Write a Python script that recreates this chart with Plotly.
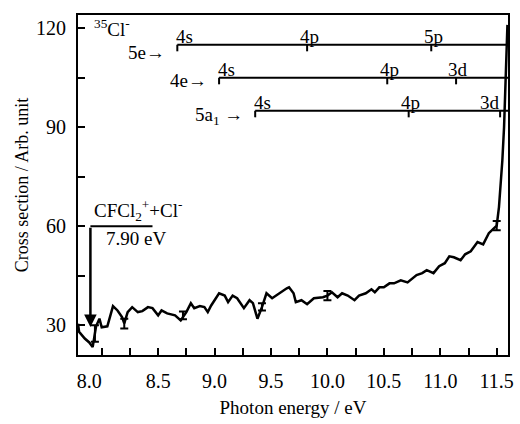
import plotly.graph_objects as go

# ---- data ----
energy = [7.79, 7.80, 7.85, 7.89, 7.92, 7.94, 7.95, 7.98, 8.00, 8.05, 8.10, 8.14, 8.18, 8.20,
          8.23, 8.27, 8.32, 8.36, 8.41, 8.45, 8.50, 8.53, 8.58, 8.65, 8.70, 8.75, 8.79, 8.82,
          8.87, 8.91, 8.94, 8.97, 9.04, 9.09, 9.12, 9.16, 9.20, 9.26, 9.31, 9.34, 9.38, 9.42,
          9.46, 9.51, 9.57, 9.64, 9.66, 9.70, 9.72, 9.77, 9.82, 9.88, 9.96, 10.00, 10.04, 10.09,
          10.13, 10.18, 10.24, 10.28, 10.34, 10.39, 10.42, 10.46, 10.50, 10.55, 10.59, 10.65,
          10.71, 10.79, 10.84, 10.88, 10.94, 10.99, 11.04, 11.08, 11.12, 11.18, 11.22, 11.27,
          11.33, 11.38, 11.43, 11.48, 11.50, 11.52, 11.535, 11.55, 11.565, 11.575, 11.585, 11.595]
cross_section = [30.5, 28, 26, 24.8, 23.4, 27, 29.7, 32, 29.4, 29.7, 35.8, 34.5, 32.5, 30.6,
                 34, 35.5, 34, 34.3, 35.5, 35.2, 33, 34.5, 33.6, 33, 31.5, 34, 36.7, 35.2,
                 35.8, 35.5, 34, 36, 39.7, 39, 37, 39, 38.2, 35.2, 37.6, 36.7, 32, 35.5,
                 39.7, 38.2, 39.7, 41.2, 41.5, 39.7, 37, 37.6, 36.4, 38.2, 38.5, 39, 40, 38.5,
                 39.7, 39, 37.6, 39, 39.7, 40.9, 40, 41.5, 41.5, 42.7, 42.7, 43.6,
                 43, 45.2, 45.8, 46.7, 45.8, 47.9, 48.8, 50.9, 50.6, 49.7, 51.5, 52.4,
                 55.2, 54.5, 57.9, 59.7, 60.2, 65.8, 72, 80, 90, 100, 110, 121]

err_x = [7.94, 8.20, 8.72, 9.42, 10.00, 11.50]
err_y = [27.5, 30.5, 33.0, 35.6, 39.0, 60.2]
err_size = [2.5, 1.5, 1.2, 1.1, 1.4, 1.4]

# Rydberg series
series_names = ["5e", "4e", "5a<sub>1</sub>"]
series_level = [115, 105, 95]
series_5e_x = [8.67, 9.82, 10.92]
series_5e_lbl = ["4s", "4p", "5p"]
series_4e_x = [9.04, 10.53, 11.14]
series_4e_lbl = ["4s", "4p", "3d"]
series_5a1_x = [9.36, 10.72, 11.53]
series_5a1_lbl = ["4s", "4p", "3d"]

threshold_energy = 7.90
threshold_label = "7.90 eV"
threshold_channel = "CFCl<sub>2</sub><sup>+</sup>+Cl<sup>-</sup>"

x_ticks = [8.0, 8.5, 9.0, 9.5, 10.0, 10.5, 11.0, 11.5]
x_tick_text = ["8.0\u00a0\u00a0\u00a0\u00a0\u00a0", "8.5", "9.0", "9.5", "10.0", "10.5", "11.0", "11.5"]
y_ticks = [30, 60, 90, 120]

FONT = "Liberation Serif"
TXT = 19

fig = go.Figure()
fig.add_trace(go.Scatter(x=energy, y=cross_section, mode="lines",
                         line=dict(color="black", width=2.5), showlegend=False))
fig.add_trace(go.Scatter(x=err_x, y=err_y, mode="markers",
                         marker=dict(size=1, color="black"),
                         error_y=dict(type="data", array=err_size, color="black",
                                      thickness=2, width=4),
                         showlegend=False))

annotations = []
shapes = []
all_x = [series_5e_x, series_4e_x, series_5a1_x]
all_lbl = [series_5e_lbl, series_4e_lbl, series_5a1_lbl]
x_right = 11.60
name_shift = [-8, -3, -5]
for i, (name, lvl) in enumerate(zip(series_names, series_level)):
    xs = all_x[i]
    lbls = all_lbl[i]
    shapes.append(dict(type="line", xref="x", yref="y", x0=xs[0], x1=x_right, y0=lvl, y1=lvl,
                       line=dict(color="black", width=2)))
    for j, (xv, lb) in enumerate(zip(xs, lbls)):
        shapes.append(dict(type="line", xref="x", yref="y", x0=xv, x1=xv, y0=lvl, y1=lvl - 2,
                           line=dict(color="black", width=2)))
        if j == 0:
            anchor = "left"
            xs_shift = -3
        elif j == len(xs) - 1 and i == 2:
            anchor = "right"
            xs_shift = 2
        else:
            anchor = "center"
            xs_shift = 2
        annotations.append(dict(x=xv, y=lvl, xref="x", yref="y", text=lb, showarrow=False,
                                xanchor=anchor, yanchor="bottom", xshift=xs_shift, yshift=-4,
                                font=dict(family=FONT, size=TXT, color="black")))
    sep = " " if i == 2 else ""
    annotations.append(dict(x=xs[0], y=lvl, xref="x", yref="y", text=name + sep + "→",
                            showarrow=False, xanchor="right", yanchor="middle",
                            xshift=-10, yshift=name_shift[i],
                            font=dict(family=FONT, size=TXT, color="black")))

annotations.append(dict(x=7.915, y=120, xref="x", yref="y", text="<sup>35</sup>Cl<sup>-</sup>",
                        showarrow=False, xanchor="left", yanchor="middle",
                        font=dict(family=FONT, size=TXT, color="black")))

# threshold marker
shapes.append(dict(type="line", xref="x", yref="y", x0=threshold_energy, x1=8.45, y0=60, y1=60,
                   line=dict(color="black", width=2)))
annotations.append(dict(x=threshold_energy, y=29.5, ax=threshold_energy, ay=60,
                        xref="x", yref="y", axref="x", ayref="y", text="",
                        showarrow=True, arrowhead=2, arrowsize=1, arrowwidth=2.5,
                        arrowcolor="black", standoff=0))
annotations.append(dict(x=threshold_energy, y=60, xref="x", yref="y", text=threshold_channel,
                        showarrow=False, xanchor="left", yanchor="bottom", xshift=2, yshift=0,
                        font=dict(family=FONT, size=TXT, color="black")))
annotations.append(dict(x=8.02, y=60, xref="x", yref="y", text=threshold_label,
                        showarrow=False, xanchor="left", yanchor="top", yshift=0,
                        font=dict(family=FONT, size=TXT, color="black")))

fig.update_layout(
    width=520, height=424,
    margin=dict(l=78, r=12, t=15, b=69),
    paper_bgcolor="white", plot_bgcolor="white",
    font=dict(family=FONT, size=20, color="black"),
    shapes=shapes, annotations=annotations,
    showlegend=False,
)
fig.update_xaxes(
    range=[7.79, 11.60], showgrid=False, zeroline=False, automargin=False,
    showline=True, linewidth=2, linecolor="black", mirror=True,
    ticks="inside", ticklen=7, tickwidth=2, tickcolor="black",
    tickvals=x_ticks, ticktext=x_tick_text, ticklabelstandoff=7,
    tickfont=dict(family=FONT, size=20),
    minor=dict(ticks="inside", ticklen=7, tickwidth=2, tickcolor="black", dtick=0.25, tick0=8.0),
    title=dict(text="Photon energy / eV", font=dict(family=FONT, size=19), standoff=10),
)
fig.update_yaxes(
    range=[21, 124], showgrid=False, zeroline=False, automargin=False,
    showline=True, linewidth=2, linecolor="black", mirror=True,
    ticks="inside", ticklen=7, tickwidth=2, tickcolor="black",
    tickvals=y_ticks, ticklabelstandoff=6,
    tickfont=dict(family=FONT, size=20),
    minor=dict(ticks="inside", ticklen=7, tickwidth=2, tickcolor="black", dtick=15, tick0=0),
    title=dict(text="Cross section / Arb. unit", font=dict(family=FONT, size=18), standoff=3),
)

fig.write_html("out.html", config={"displayModeBar": False},
               post_script="document.body.style.margin='0';")
